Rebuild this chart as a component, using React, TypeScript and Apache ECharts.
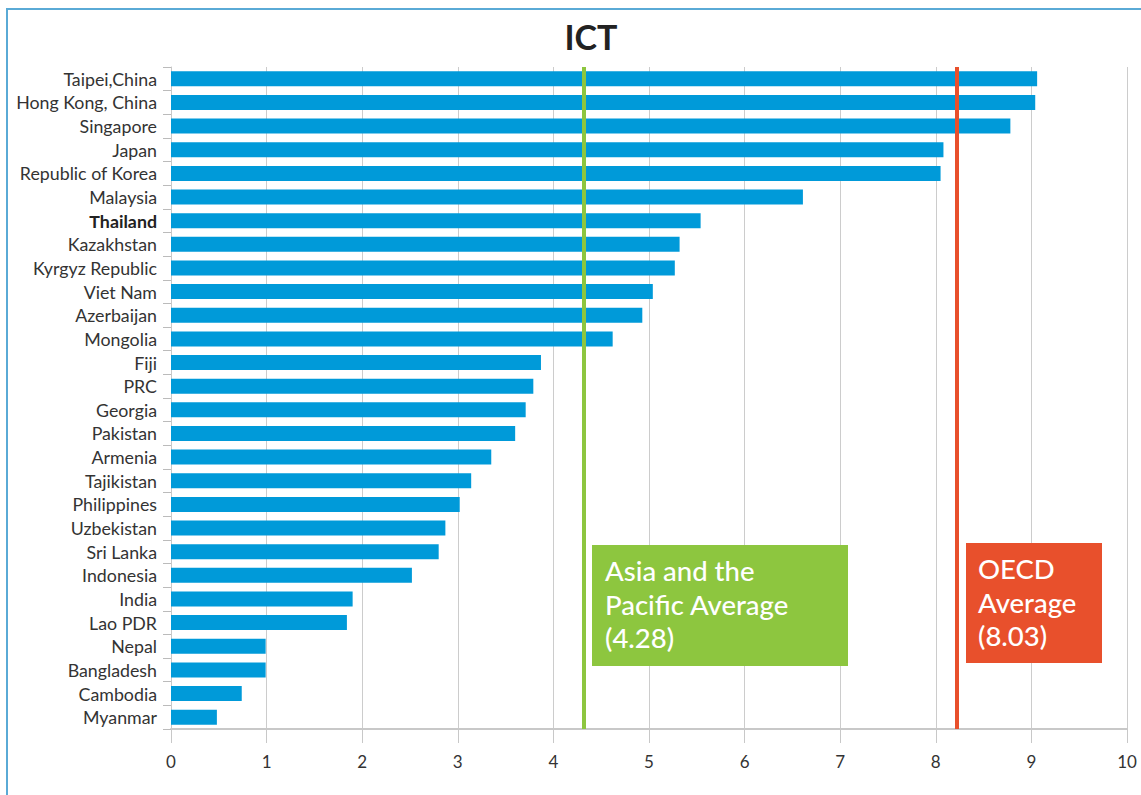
import React, { useEffect, useRef } from "react";
import * as echarts from "echarts";

const categories = [
  "Taipei,China", "Hong Kong, China", "Singapore", "Japan", "Republic of Korea",
  "Malaysia", "Thailand", "Kazakhstan", "Kyrgyz Republic", "Viet Nam",
  "Azerbaijan", "Mongolia", "Fiji", "PRC", "Georgia", "Pakistan", "Armenia",
  "Tajikistan", "Philippines", "Uzbekistan", "Sri Lanka", "Indonesia", "India",
  "Lao PDR", "Nepal", "Bangladesh", "Cambodia", "Myanmar",
];
const values = [
  9.06, 9.04, 8.78, 8.08, 8.05, 6.61, 5.54, 5.32, 5.27, 5.04, 4.93, 4.62,
  3.87, 3.79, 3.71, 3.60, 3.35, 3.14, 3.02, 2.87, 2.80, 2.52, 1.90, 1.84,
  0.99, 0.99, 0.74, 0.48,
];
const xTicks = [0, 10, 1];
const asiaLinePos = 4.32;
const oecdLinePos = 8.22;
const asiaLabel = "Asia and the\nPacific Average\n(4.28)";
const oecdLabel = "OECD\nAverage\n(8.03)";
const highlight = "Thailand";

const FONT = "Lato, 'Open Sans', sans-serif";

export default function App() {
  const ref = useRef<HTMLDivElement>(null);
  useEffect(() => {
    if (!ref.current) return;
    const chart = echarts.init(ref.current, null, { renderer: "svg" });
    chart.setOption({
      animation: false,
      backgroundColor: "#ffffff",
      textStyle: { fontFamily: FONT },
      title: {
        text: "ICT",
        left: 586,
        textAlign: "center",
        top: 14,
        textStyle: { fontSize: 34, fontWeight: "bold", color: "#222", fontFamily: FONT },
      },
      grid: { left: 171, right: 14, top: 67, bottom: 66, containLabel: false },
      xAxis: {
        type: "value",
        min: xTicks[0],
        max: xTicks[1],
        interval: xTicks[2],
        axisLine: { show: true, lineStyle: { color: "#c8c8c8", width: 2 } },
        axisTick: { show: true, length: 14, lineStyle: { color: "#c8c8c8" } },
        splitLine: { show: true, lineStyle: { color: "#cccccc", width: 1 } },
        axisLabel: { fontSize: 17, color: "#333", margin: 24, fontFamily: FONT },
      },
      yAxis: {
        type: "category",
        data: categories,
        inverse: true,
        axisLine: { show: true, lineStyle: { color: "#c8c8c8", width: 1 } },
        axisTick: { show: true, length: 8, lineStyle: { color: "#bbbbbb" } },
        axisLabel: {
          fontSize: 17.8,
          color: "#333",
          margin: 14,
          fontFamily: FONT,
          formatter: (v: string) => (v === highlight ? "{b|" + v + "}" : v),
          rich: { b: { fontWeight: "bold", fontSize: 17.8, color: "#222", fontFamily: FONT } },
        },
      },
      series: [
        {
          type: "bar",
          data: values,
          barWidth: 15,
          itemStyle: { color: "#009ad9" },
          markLine: {
            silent: true,
            symbol: "none",
            label: { show: false },
            z: 10,
            data: [
              { xAxis: asiaLinePos, lineStyle: { color: "#8dc63f", width: 4, type: "solid" } },
              { xAxis: oecdLinePos, lineStyle: { color: "#e8502c", width: 4, type: "solid" } },
            ],
          },
        },
      ],
      graphic: [
        {
          type: "rect",
          shape: { x: 7, y: 9, width: 1300, height: 1000 },
          style: { fill: "none", stroke: "#5aaad6", lineWidth: 2 },
          silent: true,
        },
        {
          type: "rect",
          shape: { x: 592, y: 545, width: 256, height: 121 },
          style: { fill: "#8dc63f" },
          z: 20,
        },
        {
          type: "text",
          x: 605,
          y: 554,
          z: 21,
          style: {
            text: asiaLabel,
            fill: "#ffffff",
            fontSize: 27.5,
            fontWeight: 500,
            lineHeight: 33.5,
            fontFamily: FONT,
          },
        },
        {
          type: "rect",
          shape: { x: 966, y: 543, width: 136, height: 120 },
          style: { fill: "#e8502c" },
          z: 20,
        },
        {
          type: "text",
          x: 978,
          y: 552,
          z: 21,
          style: {
            text: oecdLabel,
            fill: "#ffffff",
            fontSize: 27.5,
            fontWeight: 500,
            lineHeight: 33.5,
            fontFamily: FONT,
          },
        },
      ],
    });
    return () => chart.dispose();
  }, []);
  return (
    <div
      ref={ref}
      style={{ position: "fixed", left: 0, top: 0, width: 1141, height: 795 }}
    />
  );
}
